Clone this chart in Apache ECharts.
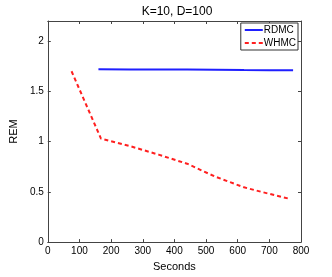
<!DOCTYPE html>
<html><head><meta charset="utf-8">
<script src="https://cdn.jsdelivr.net/npm/echarts@6/dist/echarts.min.js"></script>
<style>html,body{margin:0;padding:0;background:#fff}#c{width:332px;height:277px}</style>
</head><body><div id="c"></div>
<script>
var titleText = 'K=10, D=100';
var xLabel = 'Seconds';
var yLabel = 'REM';
var rdmcX = [160, 260, 350, 440, 530, 620, 700, 775];
var rdmcY = [1.72, 1.717, 1.718, 1.718, 1.715, 1.712, 1.711, 1.711];
var whmcX = [75, 168, 260, 350, 440, 530, 620, 700, 765];
var whmcY = [1.70, 1.03, 0.955, 0.87, 0.78, 0.65, 0.545, 0.48, 0.43];
var xTicks = [0, 100, 200, 300, 400, 500, 600, 700, 800];
var yTicks = [0, 0.5, 1, 1.5, 2];

function pairs(xs, ys){ return xs.map(function(x,i){return [x, ys[i]];}); }
var font = 'Liberation Sans, Arial, sans-serif';
var axisCol = '#444';
var chart = echarts.init(document.getElementById('c'));
chart.setOption({
  animation: false,
  backgroundColor: '#fff',
  title: { text: titleText, left: 172, top: 1, textAlign: 'center',
    textStyle: { fontFamily: font, fontSize: 12, fontWeight: 'normal', color: '#000' } },
  grid: { left: 43, right: 31, top: 21, bottom: 31 },
  legend: {
    orient: 'vertical', right: 34, top: 23,
    data: ['RDMC', 'WHMC'],
    itemWidth: 18, itemHeight: 8, itemGap: 3,
    padding: [2, 2, 2, 3],
    borderColor: '#333', borderWidth: 1, backgroundColor: '#fff',
    itemStyle: { opacity: 0, borderWidth: 0 },
    textStyle: { fontFamily: font, fontSize: 10, color: '#000', padding: [0,0,0,-4] }
  },
  xAxis: [{
    type: 'value', min: 0, max: 800, interval: 100, position: 'bottom',
    name: xLabel, nameLocation: 'middle', nameGap: 17,
    nameTextStyle: { fontFamily: font, fontSize: 11, color: '#000' },
    axisLine: { show: true, onZero: false, lineStyle: { color: axisCol } },
    axisTick: { show: true, inside: true, length: 3, lineStyle: { color: axisCol } },
    axisLabel: { fontFamily: font, fontSize: 10, color: '#000', margin: 4 },
    splitLine: { show: false }
  }, {
    type: 'value', min: 0, max: 800, interval: 100, position: 'top',
    axisLine: { show: true, onZero: false, lineStyle: { color: axisCol } },
    axisTick: { show: true, inside: true, length: 3, lineStyle: { color: axisCol } },
    axisLabel: { show: false }, splitLine: { show: false }
  }],
  yAxis: [{
    type: 'value', min: 0, max: 2.2, interval: 0.5, position: 'left',
    name: yLabel, nameLocation: 'middle', nameGap: 24, nameRotate: 90,
    nameTextStyle: { fontFamily: font, fontSize: 11, color: '#000' },
    axisLine: { show: true, onZero: false, lineStyle: { color: axisCol } },
    axisTick: { show: true, inside: true, length: 3, lineStyle: { color: axisCol } },
    axisLabel: { fontFamily: font, fontSize: 10, color: '#000', margin: 4,
      formatter: function(v){ return yTicks.indexOf(v) >= 0 ? String(v) : ''; } },
    splitLine: { show: false }
  }, {
    type: 'value', min: 0, max: 2.2, interval: 0.5, position: 'right',
    axisLine: { show: true, onZero: false, lineStyle: { color: axisCol } },
    axisTick: { show: true, inside: true, length: 3, lineStyle: { color: axisCol } },
    axisLabel: { show: false }, splitLine: { show: false }
  }],
  series: [{
    name: 'RDMC', type: 'line', data: pairs(rdmcX, rdmcY), symbol: 'none',
    lineStyle: { color: '#1f1fff', width: 2 }, itemStyle: { color: '#1f1fff' }
  }, {
    name: 'WHMC', type: 'line', data: pairs(whmcX, whmcY), symbol: 'none',
    lineStyle: { color: '#ff1f1f', width: 2, type: [4, 3] }, itemStyle: { color: '#ff1f1f' }
  }]
});
</script></body></html>
